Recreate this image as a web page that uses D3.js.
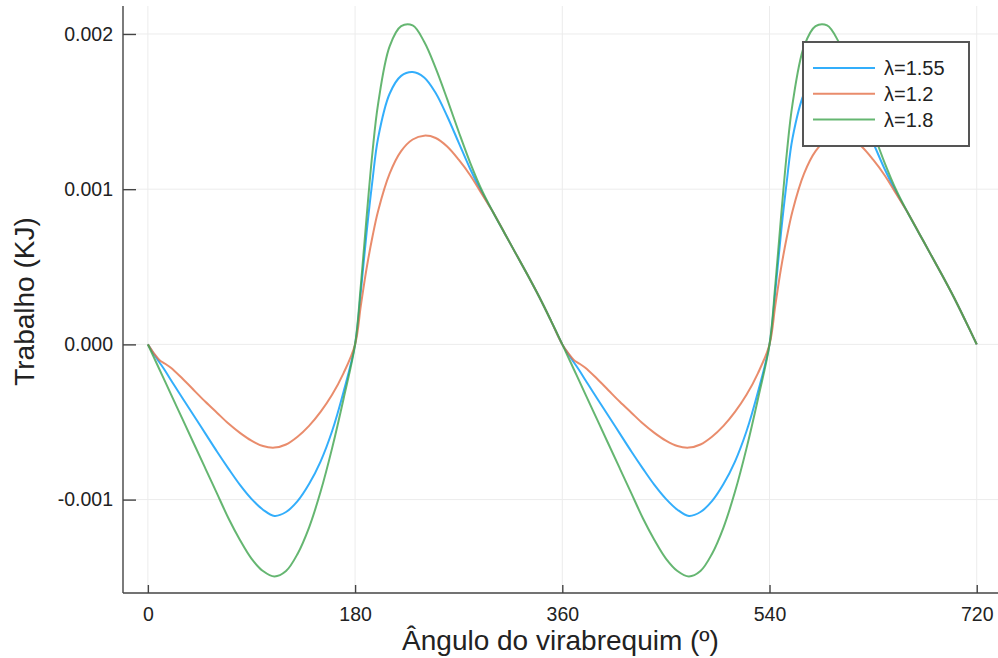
<!DOCTYPE html>
<html>
<head>
<meta charset="utf-8">
<script src="https://cdn.jsdelivr.net/npm/d3@7"></script>
<style>
    body { margin: 0; background: #fff; }
    text { font-family: "Liberation Sans", Arial, sans-serif; fill: #222; }
</style>
</head>
<body>
<svg id="svg" width="998" height="658"></svg>
<script>
// crank angle (degrees)
var angles = [0, 5, 10, 15, 20, 30, 40, 50, 60, 70, 80, 90, 100, 110, 120, 130, 140, 150, 160, 170,
    180, 185, 190, 195, 200, 210, 220, 230, 240, 250, 260, 270, 280, 290, 300, 310, 320, 330, 340, 350,
    360, 365, 370, 375, 380, 390, 400, 410, 420, 430, 440, 450, 460, 470, 480, 490, 500, 510, 520, 530,
    540, 545, 550, 555, 560, 570, 580, 590, 600, 610, 620, 630, 640, 650, 660, 670, 680, 690, 700, 710,
    720];

// work (KJ), lambda = 1.55
var work155 = [0, -0.00006, -0.000115, -0.00017, -0.00023, -0.000345, -0.00046, -0.000575, -0.00069, -0.0008,
    -0.000905, -0.000995, -0.001065, -0.001105, -0.00108, -0.00101, -0.0009, -0.000755, -0.00056, -0.000305,
    0, 0.00034, 0.00072, 0.00105, 0.00133, 0.001615, 0.00173, 0.001755, 0.00172, 0.00162,
    0.00147, 0.0013, 0.00113, 0.00098, 0.00085, 0.000715, 0.00058, 0.000445, 0.000305, 0.000155,
    0, -0.00006, -0.000115, -0.00017, -0.00023, -0.000345, -0.00046, -0.000575, -0.00069, -0.0008,
    -0.000905, -0.000995, -0.001065, -0.001105, -0.00108, -0.00101, -0.0009, -0.000755, -0.00056, -0.000305,
    0, 0.00034, 0.00072, 0.00105, 0.00133, 0.001615, 0.00173, 0.001755, 0.00172, 0.00162,
    0.00147, 0.0013, 0.00113, 0.00098, 0.00085, 0.000715, 0.00058, 0.000445, 0.000305, 0.000155,
    0];

// lambda = 1.2
var work12 = [0, -0.000055, -0.0001, -0.000125, -0.00015, -0.00022, -0.000295, -0.00037, -0.00044, -0.00051,
    -0.00057, -0.00062, -0.000655, -0.000665, -0.000645, -0.000595, -0.000525, -0.000435, -0.000325, -0.000185,
    0, 0.00025, 0.00049, 0.00069, 0.00086, 0.0011, 0.001245, 0.00132, 0.001345, 0.00133,
    0.001275, 0.00119, 0.00109, 0.00097, 0.00085, 0.000715, 0.00058, 0.000445, 0.000305, 0.000155,
    0, -0.000055, -0.0001, -0.000125, -0.00015, -0.00022, -0.000295, -0.00037, -0.00044, -0.00051,
    -0.00057, -0.00062, -0.000655, -0.000665, -0.000645, -0.000595, -0.000525, -0.000435, -0.000325, -0.000185,
    0, 0.00025, 0.00049, 0.00069, 0.00086, 0.0011, 0.001245, 0.00132, 0.001345, 0.00133,
    0.001275, 0.00119, 0.00109, 0.00097, 0.00085, 0.000715, 0.00058, 0.000445, 0.000305, 0.000155,
    0];

// lambda = 1.8
var work18 = [0, -0.00008, -0.00016, -0.00024, -0.00032, -0.00048, -0.00064, -0.0008, -0.00096, -0.00112,
    -0.00126, -0.00138, -0.00146, -0.001495, -0.00146, -0.00135, -0.00118, -0.00095, -0.00067, -0.00035,
    0, 0.00038, 0.00082, 0.00123, 0.00155, 0.00192, 0.00205, 0.002055, 0.00195, 0.00178,
    0.00158, 0.00137, 0.00117, 0.000995, 0.00085, 0.000715, 0.00058, 0.000445, 0.000305, 0.000155,
    0, -0.00008, -0.00016, -0.00024, -0.00032, -0.00048, -0.00064, -0.0008, -0.00096, -0.00112,
    -0.00126, -0.00138, -0.00146, -0.001495, -0.00146, -0.00135, -0.00118, -0.00095, -0.00067, -0.00035,
    0, 0.00038, 0.00082, 0.00123, 0.00155, 0.00192, 0.00205, 0.002055, 0.00195, 0.00178,
    0.00158, 0.00137, 0.00117, 0.000995, 0.00085, 0.000715, 0.00058, 0.000445, 0.000305, 0.000155,
    0];

var xTicks = [0, 180, 360, 540, 720];
var yTicks = [-0.001, 0, 0.001, 0.002];
var yTickLabels = ["-0.001", "0.000", "0.001", "0.002"];
var seriesNames = ["\u03bb=1.55", "\u03bb=1.2", "\u03bb=1.8"];
var seriesColors = ["#009afa", "#e36f47", "#3ea44e"];

window.onload = function () {
    var svg = d3.select("svg");
    var left = 123, right = 1001.6, top = 6, bottom = 593;

    var xScale = d3.scaleLinear().domain([-21.6, 741.6]).range([left, right]);
    var yScale = d3.scaleLinear().domain([-0.001605, 0.002177]).range([bottom + 0.5, top + 0.5]);

    // grid
    svg.append("g").selectAll("line.vg")
        .data(xTicks).enter().append("line")
        .attr("x1", function (d) { return xScale(d); })
        .attr("x2", function (d) { return xScale(d); })
        .attr("y1", top).attr("y2", bottom)
        .attr("stroke", "#ececec").attr("stroke-width", 1);

    svg.append("g").selectAll("line.hg")
        .data(yTicks).enter().append("line")
        .attr("x1", left).attr("x2", 998)
        .attr("y1", function (d) { return yScale(d); })
        .attr("y2", function (d) { return yScale(d); })
        .attr("stroke", "#ececec").attr("stroke-width", 1);

    // axes (GR style: inward ticks)
    var xAxis = d3.axisBottom(xScale).tickValues(xTicks).tickSize(-8).tickPadding(14)
        .tickFormat(d3.format("d"));
    var gx = svg.append("g").attr("transform", "translate(0," + bottom + ")").call(xAxis);
    gx.select(".domain").attr("d", "M" + left + ",0H998");

    var yAxis = d3.axisLeft(yScale).tickValues(yTicks).tickSize(-13).tickPadding(10)
        .tickFormat(function (d, i) { return yTickLabels[i]; });
    var gy = svg.append("g").attr("transform", "translate(" + left + ",0)").call(yAxis);
    gy.select(".domain").attr("d", "M0," + top + "V" + bottom);

    svg.selectAll(".domain").attr("stroke", "#444").attr("stroke-width", 1.4);
    svg.selectAll(".tick line").attr("stroke", "#444").attr("stroke-width", 1.4);
    svg.selectAll(".tick text").attr("font-size", 19.5).attr("fill", "#222")
        .style("font-family", "'Liberation Sans', Arial, sans-serif");

    // lines
    var series = [work155, work12, work18];
    var line = d3.line()
        .x(function (d, i) { return xScale(angles[i]); })
        .y(function (d) { return yScale(d); })
        .curve(d3.curveCatmullRom.alpha(0.5));

    svg.append("g").selectAll("path.s")
        .data(series).enter().append("path")
        .attr("d", line)
        .attr("fill", "none")
        .attr("stroke", function (d, i) { return seriesColors[i]; })
        .attr("stroke-opacity", 0.8)
        .attr("stroke-width", 2);

    // labels
    svg.append("text")
        .attr("x", (left + 998) / 2).attr("y", 650)
        .attr("text-anchor", "middle").attr("font-size", 28)
        .text("\u00c2ngulo do virabrequim (\u00ba)");

    svg.append("text")
        .attr("transform", "translate(34," + ((top + bottom) / 2 + 2) + ") rotate(-90)")
        .attr("text-anchor", "middle").attr("font-size", 28)
        .text("Trabalho (KJ)");

    // legend
    var legend = svg.append("g").attr("transform", "translate(803,42)");
    legend.append("rect")
        .attr("width", 166).attr("height", 104)
        .attr("fill", "#fff").attr("stroke", "#555").attr("stroke-width", 2);

    var items = legend.selectAll("g.item")
        .data(seriesNames).enter().append("g")
        .attr("transform", function (d, i) { return "translate(0," + (26 + i * 25.8) + ")"; });
    items.append("line")
        .attr("x1", 10).attr("x2", 72)
        .attr("stroke", function (d, i) { return seriesColors[i]; })
        .attr("stroke-opacity", 0.8)
        .attr("stroke-width", 2);
    items.append("text")
        .attr("x", 81).attr("y", 7)
        .attr("font-size", 20)
        .text(function (d) { return d; });
};
</script>
</body>
</html>
